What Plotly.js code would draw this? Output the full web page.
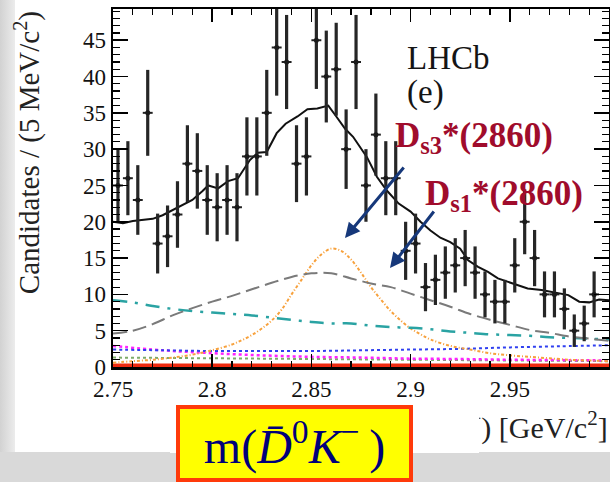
<!DOCTYPE html>
<html>
<head>
<meta charset="utf-8">
<script src="https://cdn.plot.ly/plotly-3.0.1.min.js"></script>
<style>
  html, body { margin:0; padding:0; }
  body { width:610px; height:482px; background:#d9d9d9; position:relative; overflow:hidden; }
  #leftstrip { position:absolute; left:0; top:0; width:15px; height:452px; background:linear-gradient(to right,#d2d2d2,#ececec); }
  #panel { position:absolute; left:15px; top:0; width:595px; height:452px; background:#ffffff; }
  #chart { position:absolute; left:0; top:0; width:610px; height:482px; }
</style>
</head>
<body>
<div id="leftstrip"></div>
<div id="panel"></div>
<div id="chart"></div>
<script>
// ---- data: m(D0bar K-) candidates per 5 MeV/c^2 bin ----
const binCenters = [2.7525, 2.7575, 2.7625, 2.7675, 2.7725, 2.7775, 2.7825, 2.7875, 2.7925, 2.7975,
                    2.8025, 2.8075, 2.8125, 2.8175, 2.8225, 2.8275, 2.8325, 2.8375, 2.8425, 2.8475,
                    2.8525, 2.8575, 2.8625, 2.8675, 2.8725, 2.8775, 2.8825, 2.8875, 2.8925, 2.8975,
                    2.9025, 2.9075, 2.9125, 2.9175, 2.9225, 2.9275, 2.9325, 2.9375, 2.9425, 2.9475,
                    2.9525, 2.9575, 2.9625, 2.9675, 2.9725, 2.9775, 2.9825, 2.9875, 2.9925];
const candidates = [25, 26, 23, 35, 17, 18, 21, 28, 27, 23,
                    22, 23, 22, 29, 29, 35, 44, 42, 28, 29,
                    45, 40, 41, 30, 42, 25, 32, 26, 26, 16,
                    17, 11, 12, 13, 14, 15, 13, 10, 9, 9,
                    14, 20, 15, 10, 10, 8, 5, 6, 10];

// total fit
const totalX = [2.750, 2.755, 2.760, 2.765, 2.770, 2.775, 2.780, 2.785, 2.790, 2.795,
                2.798, 2.803, 2.808, 2.813, 2.819, 2.823, 2.8275, 2.8325, 2.837, 2.843,
                2.848, 2.853, 2.8585, 2.862, 2.867, 2.871, 2.878, 2.883, 2.888, 2.894,
                2.900, 2.905, 2.910, 2.915, 2.920, 2.925, 2.929, 2.934, 2.939, 2.944,
                2.949, 2.954, 2.959, 2.966, 2.973, 2.9795, 2.985, 2.990, 2.995, 3.000];
const totalY = [20.0, 19.8, 20.1, 20.3, 20.4, 20.9, 21.6, 22.3, 23.0, 24.2,
                25.0, 24.6, 25.6, 26.0, 28.5, 29.5, 29.6, 32.2, 33.5, 34.5,
                35.5, 35.6, 36.0, 34.7, 32.8, 31.7, 28.9, 26.2, 24.3, 22.5,
                21.4, 20.0, 18.8, 17.8, 17.2, 16.3, 14.7, 13.8, 13.1, 12.2,
                11.7, 11.3, 10.8, 10.6, 10.2, 9.9, 9.0, 8.9, 9.3, 9.2];

// common grid for smooth components
const gridX = [2.75, 2.76, 2.77, 2.78, 2.79, 2.80, 2.81, 2.82, 2.83, 2.84,
               2.85, 2.86, 2.87, 2.88, 2.89, 2.90, 2.91, 2.92, 2.93, 2.94,
               2.95, 2.96, 2.97, 2.98, 2.99, 3.00];
// Ds1*(2860) component (grey dashed)
const ds1Y = [4.6, 5.0, 5.9, 7.1, 8.1, 9.0, 9.8, 10.7, 11.6, 12.4,
              12.9, 12.9, 12.2, 11.5, 11.0, 10.1, 9.2, 8.3, 7.3, 6.5,
              5.8, 5.1, 4.7, 4.2, 3.9, 3.6];
// other component (teal dash-dot)
const tealY = [9.2, 8.9, 8.4, 8.0, 7.7, 7.5, 7.3, 7.1, 6.8, 6.5,
               6.2, 6.0, 6.0, 5.7, 5.5, 5.4, 5.2, 4.9, 4.7, 4.5,
               4.4, 4.3, 4.1, 4.0, 3.9, 3.8];

// Ds3*(2860) component (orange dotted)
const ds3X = [2.75, 2.76, 2.77, 2.78, 2.79, 2.80, 2.81, 2.815, 2.82, 2.825,
              2.83, 2.835, 2.84, 2.845, 2.85, 2.855, 2.86, 2.865, 2.87, 2.875,
              2.88, 2.885, 2.89, 2.895, 2.90, 2.905, 2.91, 2.92, 2.93, 2.94,
              2.95, 2.96, 2.97, 2.98, 2.99, 3.00];
const ds3Y = [0.6, 0.8, 1.0, 1.3, 1.7, 2.3, 3.1, 3.7, 4.4, 5.3,
              6.4, 7.9, 10.0, 12.0, 14.0, 15.5, 16.3, 16.0, 14.8, 13.0,
              11.0, 9.3, 7.7, 6.4, 5.3, 4.5, 3.8, 2.9, 2.4, 1.9,
              1.6, 1.4, 1.2, 1.0, 0.9, 0.8];

// small background components
const smallX   = [2.75, 2.775, 2.80, 2.825, 2.85, 2.875, 2.90, 2.925, 2.95, 2.975, 3.00];
const blueY    = [2.4, 2.3, 2.2, 2.2, 2.2, 2.3, 2.4, 2.5, 2.7, 2.85, 3.0];
const magentaY = [2.9, 2.3, 1.9, 1.6, 1.4, 1.3, 1.15, 1.1, 1.0, 0.95, 0.9];
const greenY   = [1.3, 1.25, 1.2, 1.15, 1.1, 1.05, 1.0, 0.95, 0.9, 0.85, 0.8];
const redY     = [0.25, 0.25, 0.25, 0.25, 0.25, 0.25, 0.25, 0.25, 0.25, 0.25, 0.25];

// axis ticks
const xTickVals = [2.75, 2.8, 2.85, 2.9, 2.95, 3.0];
const xTickText = ["2.75", "2.8", "2.85", "2.9", "2.95", "3"];
const yTickVals = [0, 5, 10, 15, 20, 25, 30, 35, 40, 45];
const yTickText = ["0", "5", "10", "15", "20", "25", "30", "35", "40", "45"];

const serif = "Liberation Serif";

const traces = [
  {x: smallX, y: redY, mode: 'lines', line: {color: '#ee2a10', width: 3.5}, hoverinfo: 'skip'},
  {x: smallX, y: greenY, mode: 'lines', line: {color: '#7cab6a', width: 2, dash: 'dot'}, hoverinfo: 'skip'},
  {x: smallX, y: magentaY, mode: 'lines', line: {color: '#ff22ff', width: 2.5, dash: 'dot', shape: 'spline'}, hoverinfo: 'skip'},
  {x: smallX, y: blueY, mode: 'lines', line: {color: '#3040f0', width: 2, dash: 'dot', shape: 'spline'}, hoverinfo: 'skip'},
  {x: ds3X, y: ds3Y, mode: 'lines', line: {color: '#f7a13c', width: 2, dash: '3px,2px,1px,2px', shape: 'spline'}, hoverinfo: 'skip'},
  {x: gridX, y: tealY, mode: 'lines', line: {color: '#2aa3a3', width: 2.5, dash: '14px,8px,3px,8px', shape: 'spline'}, hoverinfo: 'skip'},
  {x: gridX, y: ds1Y, mode: 'lines', line: {color: '#7a7a7a', width: 2, dash: '14px,6px', shape: 'spline'}, hoverinfo: 'skip'},
  {x: totalX, y: totalY, mode: 'lines', line: {color: '#111111', width: 2}, hoverinfo: 'skip'},
  {x: binCenters, y: candidates, mode: 'markers',
   marker: {color: '#1a1a1a', size: 5},
   error_y: {type: 'sqrt', color: '#262626', thickness: 3.2, width: 0},
   error_x: {type: 'constant', value: 0.0025, color: '#222222', thickness: 2, width: 0},
   hoverinfo: 'skip'}
];

const layout = {
  width: 610, height: 482,
  margin: {l: 113, r: 1, t: 9, b: 115, pad: 0},
  paper_bgcolor: 'rgba(0,0,0,0)',
  plot_bgcolor: 'rgba(0,0,0,0)',
  showlegend: false,
  font: {family: serif, color: '#1a1a1a'},
  xaxis: {
    range: [2.75, 3.0], tickvals: xTickVals, ticktext: xTickText,
    ticks: 'inside', ticklen: 13, tickwidth: 1.5, tickcolor: '#000',
    minor: {ticks: 'inside', ticklen: 6, dtick: 0.01, tick0: 2.75, tickcolor: '#000', tickwidth: 1.2, showgrid: false},
    showline: true, linecolor: '#000', linewidth: 2.5, mirror: 'ticks',
    showgrid: false, zeroline: false,
    tickfont: {family: serif, size: 23, color: '#111'}
  },
  yaxis: {
    range: [0, 49.3], tickvals: yTickVals, ticktext: yTickText,
    ticks: 'inside', ticklen: 15, tickwidth: 1.5, tickcolor: '#000',
    minor: {ticks: 'inside', ticklen: 7, dtick: 1, tick0: 0, tickcolor: '#000', tickwidth: 1.2, showgrid: false},
    showline: true, linecolor: '#000', linewidth: 2.5, mirror: 'ticks',
    showgrid: false, zeroline: false,
    tickfont: {family: serif, size: 23, color: '#111'}
  },
  annotations: [
    {xref: 'paper', yref: 'paper', x: -0.172, y: 1.0, xanchor: 'center', yanchor: 'top',
     textangle: -90, showarrow: false,
     text: 'Candidates / (5 MeV/c<sup>2</sup>)', font: {family: serif, size: 29, color: '#222'}},
    // x-axis title (mostly hidden behind the yellow label, as in the original slide)
    {xref: 'paper', yref: 'paper', x: 1.002, y: -0.163, xanchor: 'right', yanchor: 'middle',
     showarrow: false,
     text: 'm(<i>D̄</i><sup>0</sup><i>K</i><sup>−</sup>) [GeV/c<sup>2</sup>]', font: {family: serif, size: 30, color: '#222'}},
    // white backing of the pasted label
    {xref: 'paper', yref: 'paper', x: 0.115, y: -0.1788, xanchor: 'left', yanchor: 'middle',
     showarrow: false, width: 309, height: 44, borderpad: 0, borderwidth: 0,
     bgcolor: '#ffffff', text: ' ', font: {family: serif, size: 10, color: '#ffffff'}},
    {xref: 'paper', yref: 'paper', x: 0.589, y: 0.862, xanchor: 'left', yanchor: 'middle',
     showarrow: false, text: 'LHCb', font: {family: serif, size: 33, color: '#151515'}},
    {xref: 'paper', yref: 'paper', x: 0.589, y: 0.768, xanchor: 'left', yanchor: 'middle',
     showarrow: false, text: '(e)', font: {family: serif, size: 33, color: '#151515'}},
    {xref: 'paper', yref: 'paper', x: 0.565, y: 0.64, xanchor: 'left', yanchor: 'middle',
     showarrow: false, text: '<b>D<sub>s3</sub>*(2860)</b>', font: {family: serif, size: 35, color: '#a00c2c'}},
    {xref: 'paper', yref: 'paper', x: 0.624, y: 0.48, xanchor: 'left', yanchor: 'middle',
     showarrow: false, text: '<b>D<sub>s1</sub>*(2860)</b>', font: {family: serif, size: 35, color: '#a00c2c'}},
    {xref: 'paper', yref: 'paper', x: 0.4677, y: 0.3603, showarrow: true, text: '',
     ax: 60, ay: -72, arrowhead: 2, arrowsize: 1, arrowwidth: 3, arrowcolor: '#16387a'},
    {xref: 'paper', yref: 'paper', x: 0.5585, y: 0.2765, showarrow: true, text: '',
     ax: 45, ay: -58, arrowhead: 2, arrowsize: 1, arrowwidth: 3, arrowcolor: '#16387a'},
    {xref: 'paper', yref: 'paper', x: 0.3659, y: -0.2137, xanchor: 'center', yanchor: 'middle',
     showarrow: false, width: 229, height: 69, borderpad: 0, valign: 'middle',
     bgcolor: '#ffff00', bordercolor: '#ff3a0a', borderwidth: 4,
     text: 'm(<i>D̄</i><sup>0</sup><i>K</i><sup>−</sup>\u2009)', font: {family: serif, size: 48, color: '#00007a'}}
  ]
};

Plotly.newPlot('chart', traces, layout, {displayModeBar: false, staticPlot: true});
</script>
</body>
</html>
